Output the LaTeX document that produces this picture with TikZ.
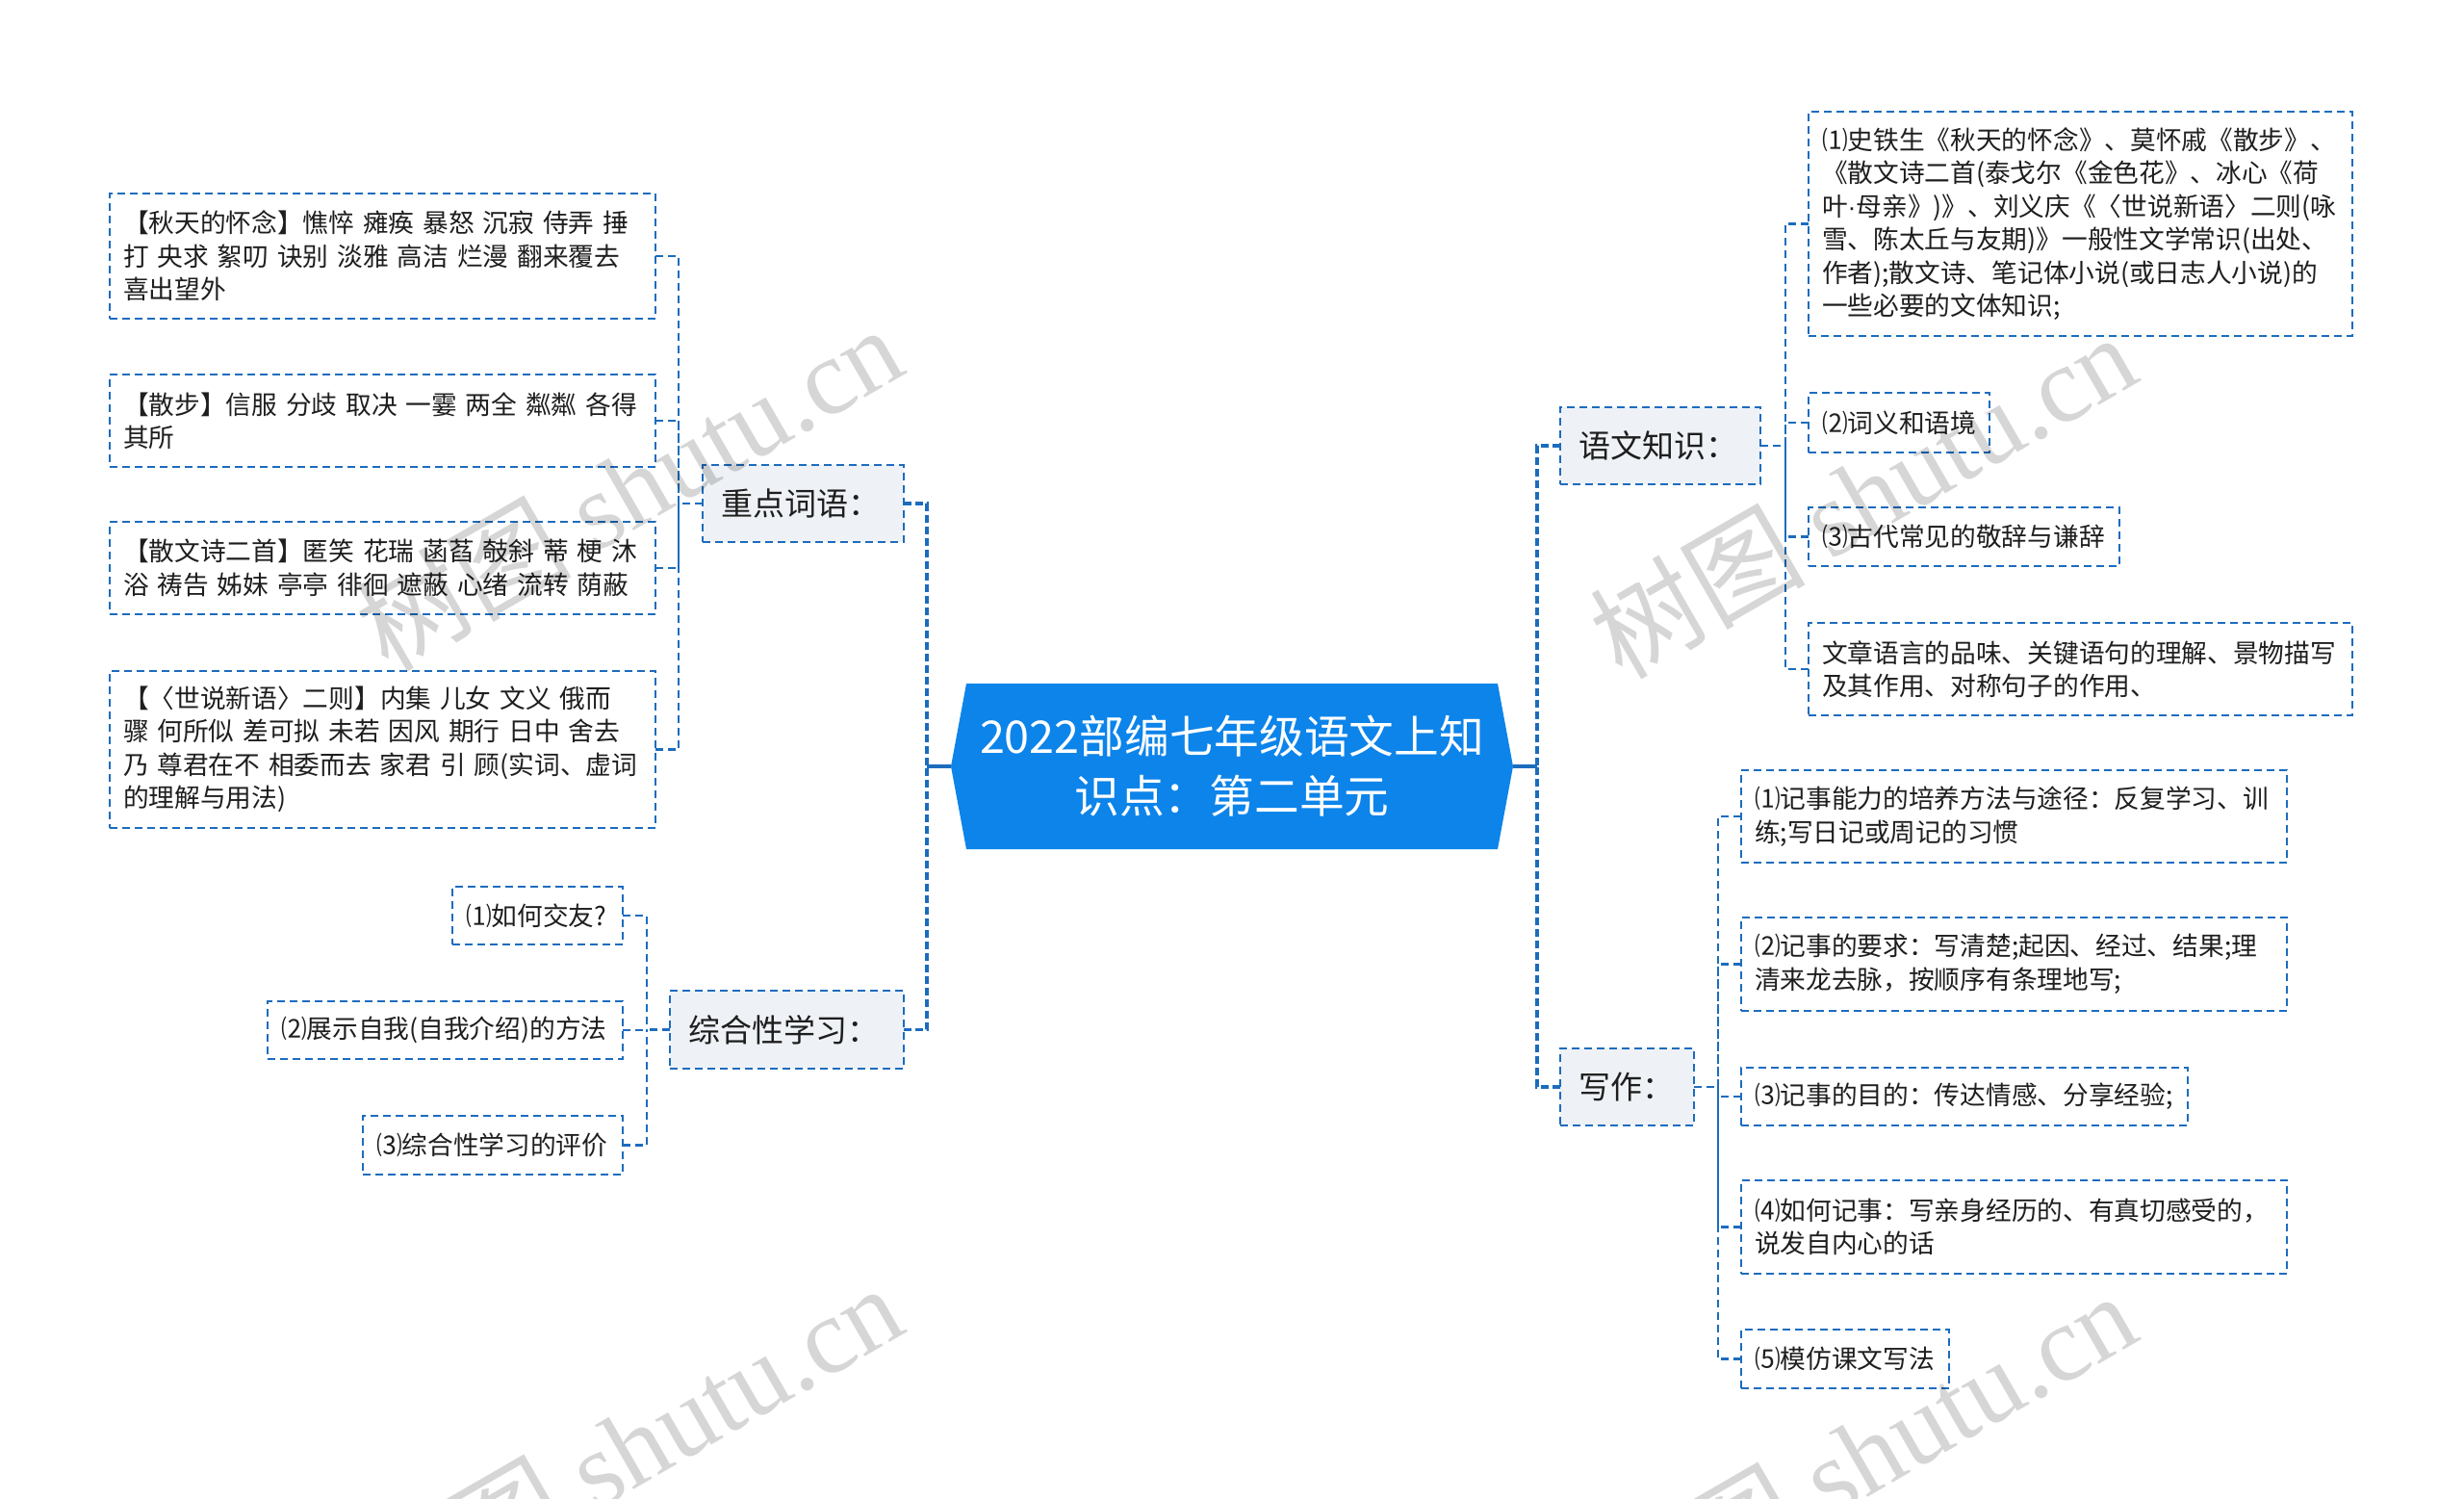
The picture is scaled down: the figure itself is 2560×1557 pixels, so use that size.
\documentclass[tikz,border=0pt]{standalone}
\usepackage{fontspec}
\setmainfont{Noto Sans CJK SC}
\newfontfamily\wmlatin{Liberation Serif}
\newfontfamily\latinsans{Liberation Sans}
\definecolor{lineblue}{RGB}{28,108,190}
\definecolor{rootblue}{RGB}{12,132,234}
\definecolor{lvgray}{RGB}{238,241,245}
\definecolor{txt}{RGB}{30,30,30}
\begin{document}
\begin{tikzpicture}[x=1pt,y=-1pt,
  box/.style={draw=lineblue, line width=2.2pt, dash pattern=on 8pt off 5pt, text=txt, fill=white,
    inner xsep=14pt, inner ysep=0pt, outer sep=0pt, align=left,
    font=\fontsize{26.7pt}{34.5pt}\selectfont},
  lvl/.style={box, fill=lvgray, inner xsep=19pt, font=\fontsize{33pt}{40pt}\selectfont},
  conn/.style={lineblue, line width=2.2pt, dash pattern=on 8pt off 5pt},
  mainconn/.style={lineblue, line width=3.5pt, dash pattern=on 8pt off 4pt},
  wm/.style={text=black, text opacity=0.16, font=\fontsize{112pt}{112pt}\selectfont, inner sep=0pt}
]
\fill[white] (0,0) rectangle (2560,1557);
\useasboundingbox (0,0) rectangle (2560,1557);

% root
\fill[rootblue] (1004,710) -- (1556,710) -- (1572,796) -- (1556,882) -- (1004,882) -- (988,796) -- cycle;
\node[text=white, align=center, font=\fontsize{46.7pt}{62pt}\selectfont, minimum width=584pt,
  minimum height=172pt, inner sep=0pt] (root) at (1280,796) {2022部编七年级语文上知\\识点：第二单元};

% level 1
\node[lvl, text width=171pt, minimum height=80pt] (kw) at (834.5,523) {重点词语：};
\node[lvl, text width=205pt, minimum height=81pt] (zh) at (817.5,1069.5) {综合性学习：};
\node[lvl, text width=170pt, minimum height=80pt] (yw) at (1725,463) {语文知识：};
\node[lvl, text width=101pt, minimum height=80pt] (xz) at (1690.5,1129) {写作：};

% 重点词语 children
\node[box, text width=539pt, minimum height=130pt] (k1) at (397.5,266) {【秋天的怀念】憔悴 瘫痪 暴怒 沉寂 侍弄 捶\\打 央求 絮叨 诀别 淡雅 高洁 烂漫 翻来覆去\\喜出望外};
\node[box, text width=539pt, minimum height=96pt] (k2) at (397.5,437) {【散步】信服 分歧 取决 一霎 两全 粼粼 各得\\其所};
\node[box, text width=539pt, minimum height=96pt] (k3) at (397.5,590) {【散文诗二首】匿笑 花瑞 菡萏 攲斜 蒂 梗 沐\\浴 祷告 姊妹 亭亭 徘徊 遮蔽 心绪 流转 荫蔽};
\node[box, text width=539pt, minimum height=163pt] (k4) at (397.5,778.5) {【〈世说新语〉二则】内集 儿女 文义 俄而\\骤 何所似 差可拟 未若 因风 期行 日中 舍去\\乃 尊君在不 相委而去 家君 引 顾(实词、虚词\\的理解与用法)};

% 综合性学习 children
\node[box, text width=149pt, minimum height=60pt] (z1) at (558.5,951) {⑴如何交友?};
\node[box, text width=341pt, minimum height=60pt] (z2) at (462.5,1070) {⑵展示自我(自我介绍)的方法};
\node[box, text width=242pt, minimum height=61pt] (z3) at (512,1189.5) {⑶综合性学习的评价};

% 语文知识 children
\node[box, text width=537pt, minimum height=233pt] (y1) at (2161.5,232.5) {⑴史铁生《秋天的怀念》、莫怀戚《散步》、\\《散文诗二首(泰戈尔《金色花》、冰心《荷\\叶{\latinsans ·}母亲》)》、刘义庆《〈世说新语〉二则(咏\\雪、陈太丘与友期)》一般性文学常识(出处、\\作者);散文诗、笔记体小说(或日志人小说)的\\一些必要的文体知识;};
\node[box, text width=160pt, minimum height=62pt] (y2) at (1973,439) {⑵词义和语境};
\node[box, text width=295pt, minimum height=61pt] (y3) at (2040.5,557.5) {⑶古代常见的敬辞与谦辞};
\node[box, text width=537pt, minimum height=96pt] (y4) at (2161.5,695) {文章语言的品味、关键语句的理解、景物描写\\及其作用、对称句子的作用、};

% 写作 children
\node[box, text width=539pt, minimum height=96pt] (w1) at (2092.5,848) {⑴记事能力的培养方法与途径：反复学习、训\\练;写日记或周记的习惯};
\node[box, text width=539pt, minimum height=97pt] (w2) at (2092.5,1001.5) {⑵记事的要求：写清楚;起因、经过、结果;理\\清来龙去脉，按顺序有条理地写;};
\node[box, text width=436pt, minimum height=60pt] (w3) at (2041,1139) {⑶记事的目的：传达情感、分享经验;};
\node[box, text width=539pt, minimum height=97pt] (w4) at (2092.5,1274.5) {⑷如何记事：写亲身经历的、有真切感受的，\\说发自内心的话};
\node[box, text width=188pt, minimum height=61pt] (w5) at (1917,1411.5) {⑸模仿课文写法};

% bus coordinates
\coordinate (bL) at (963,796);
\coordinate (bR) at (1597,796);
\coordinate (bK) at (705,523);
\coordinate (bZ) at (672,1069.5);
\coordinate (bY) at (1855,463);
\coordinate (bX) at (1785,1129);

% main connectors
\draw[lineblue, line width=3.5pt] (root.west) -- (bL);
\draw[lineblue, line width=3.5pt] (root.east) -- (bR);
\draw[mainconn] (kw.east) -| (bL);
\draw[mainconn] (zh.east) -| (bL);
\draw[mainconn] (yw.west) -| (bR);
\draw[mainconn] (xz.west) -| (bR);

% child connectors
\draw[conn] (kw.west) -- (bK);
\foreach \c in {k1,k2,k3,k4} \draw[conn] (\c.east) -| (bK);
\draw[conn] (zh.west) -- (bZ);
\foreach \c in {z1,z2,z3} \draw[conn] (\c.east) -| (bZ);
\draw[conn] (yw.east) -- (bY);
\foreach \c in {y1,y2,y3,y4} \draw[conn] (\c.west) -| (bY);
\draw[conn] (xz.east) -- (bX);
\foreach \c in {w1,w2,w3,w4,w5} \draw[conn] (\c.west) -| (bX);

% watermarks
\node[wm, rotate=30] (wm1) at (653,506) {树图 {\wmlatin shutu.cn}};
\node[wm, rotate=30] (wm2) at (1935,514) {树图 {\wmlatin shutu.cn}};
\node[wm, rotate=30] (wm3) at (653,1502) {树图 {\wmlatin shutu.cn}};
\node[wm, rotate=30] (wm4) at (1935,1510) {树图 {\wmlatin shutu.cn}};
\end{tikzpicture}
\end{document}
